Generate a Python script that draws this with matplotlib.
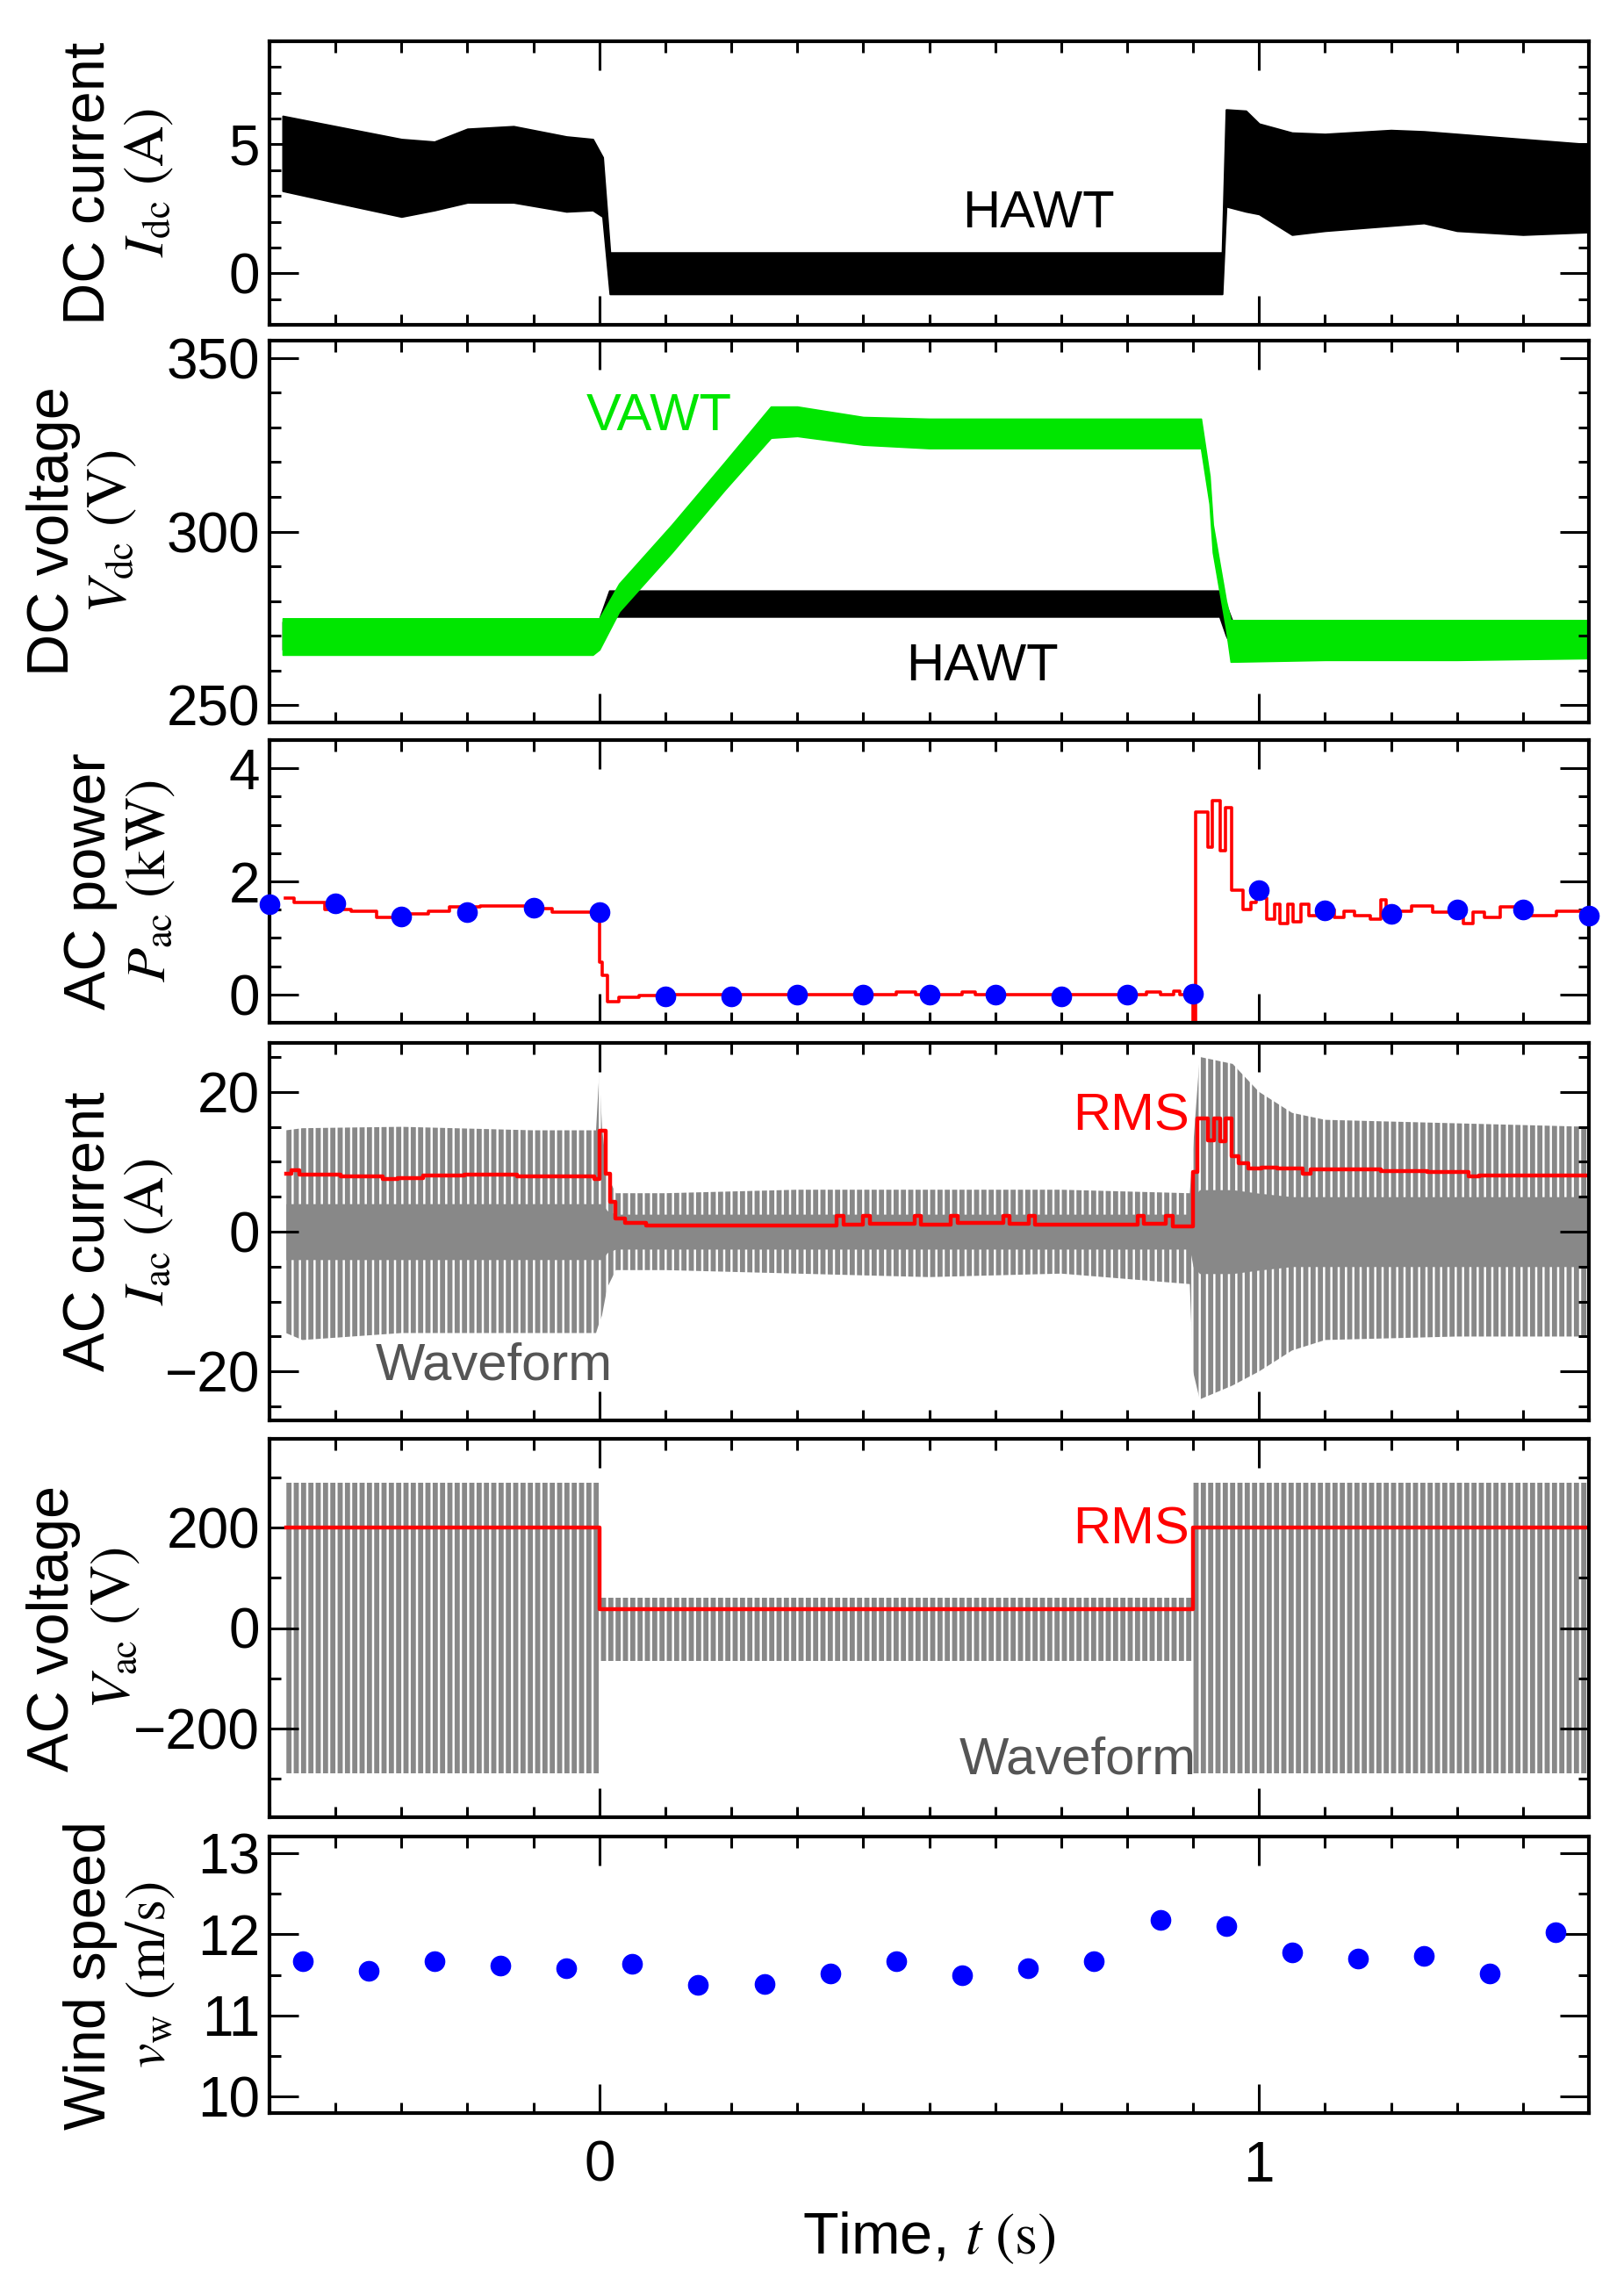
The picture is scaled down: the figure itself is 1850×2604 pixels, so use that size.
import matplotlib
matplotlib.use("Agg")
import matplotlib.pyplot as plt
from matplotlib.ticker import MultipleLocator

plt.rcParams["font.family"] = ["Liberation Sans", "DejaVu Sans"]
plt.rcParams["mathtext.fontset"] = "stix"
plt.rcParams["hatch.linewidth"] = 4.2

GREEN = "#00e600"
RED = "#ff0000"
BLUE = "#0000ff"
WAVE = "#888888"
LABEL_GRAY = "#555555"

# ---- DC current (HAWT), band ----
t_idc = [-0.48, -0.40, -0.30, -0.25, -0.20, -0.13, -0.05, -0.01, 0.005, 0.016,
         0.10, 0.30, 0.50, 0.70, 0.90, 0.944, 0.95, 0.98, 1.00, 1.05, 1.10,
         1.20, 1.25, 1.30, 1.40, 1.50]
idc_hi = [6.1, 5.7, 5.2, 5.1, 5.6, 5.7, 5.3, 5.2, 4.5, 0.8,
          0.8, 0.8, 0.8, 0.8, 0.8, 0.8, 6.35, 6.3, 5.8, 5.45, 5.4,
          5.55, 5.5, 5.4, 5.2, 5.0]
idc_lo = [3.2, 2.75, 2.2, 2.45, 2.75, 2.75, 2.4, 2.45, 2.2, -0.8,
          -0.8, -0.8, -0.8, -0.8, -0.8, -0.8, 2.6, 2.4, 2.3, 1.5, 1.65,
          1.85, 1.95, 1.65, 1.5, 1.6]

# ---- DC voltage ----
t_hawt = [-0.48, -0.01, 0.0, 0.015, 0.5, 0.94, 0.95, 0.96, 1.50]
vdc_hawt_hi = [274, 274, 275, 283, 283, 283, 279, 274, 274]
vdc_hawt_lo = [266, 266, 268, 275.5, 275.5, 275.5, 270, 266, 266]
t_vawt = [-0.48, -0.20, -0.01, 0.0, 0.03, 0.11, 0.19, 0.26, 0.30, 0.40,
          0.50, 0.70, 0.912, 0.925, 0.93, 0.95, 0.957, 1.10, 1.30, 1.50]
vdc_vawt_hi = [275, 275, 275, 275, 285, 302, 320, 336, 336, 333,
               332.5, 332.5, 332.5, 316, 302, 280, 274.5, 274.5, 274.5, 274.5]
vdc_vawt_lo = [264.5, 264.5, 264.5, 266, 277, 294, 312, 327, 327.5, 325,
               324, 324, 324, 308, 294, 272, 262.5, 263, 263, 263.5]

# ---- AC power, RMS step trace and sampled points ----
t_pac = [-0.476, -0.463, -0.416, -0.376, -0.337, -0.306, -0.259, -0.227, -0.18,
         -0.102, -0.071, 0.0, 0.004, 0.012, 0.03, 0.06, 0.10, 0.45, 0.48, 0.55,
         0.57, 0.83, 0.85, 0.87, 0.88, 0.900, 0.904, 0.922, 0.929, 0.941, 0.949,
         0.958, 0.976, 0.988, 0.996, 1.012, 1.024, 1.031, 1.043, 1.051, 1.063,
         1.075, 1.098, 1.114, 1.129, 1.145, 1.169, 1.184, 1.192, 1.231, 1.263,
         1.31, 1.325, 1.341, 1.365, 1.404, 1.451, 1.50]
pac = [1.70, 1.63, 1.50, 1.47, 1.37, 1.42, 1.47, 1.55, 1.57,
       1.52, 1.45, 0.57, 0.34, -0.13, -0.05, -0.02, 0.0, 0.04, 0.0, 0.05,
       0.0, 0.05, 0.0, 0.06, 0.0, -0.6, 3.23, 2.6, 3.43, 2.55, 3.3,
       1.85, 1.50, 1.63, 1.70, 1.34, 1.60, 1.26, 1.60, 1.29, 1.60,
       1.39, 1.50, 1.37, 1.47, 1.39, 1.34, 1.68, 1.47, 1.57, 1.45,
       1.26, 1.45, 1.37, 1.55, 1.39, 1.47, 1.47]
t_pac_pts = [-0.5, -0.4, -0.3, -0.2, -0.1, 0.0, 0.1, 0.2, 0.3, 0.4, 0.5,
             0.6, 0.7, 0.8, 0.9, 1.0, 1.1, 1.2, 1.3, 1.4, 1.5]
pac_pts = [1.60, 1.61, 1.38, 1.46, 1.54, 1.46, -0.04, -0.03, -0.01, 0.0, 0.0,
           0.0, -0.04, 0.0, 0.01, 1.84, 1.49, 1.42, 1.51, 1.51, 1.39]

# ---- AC current: waveform envelope and RMS step trace ----
t_iac = [-0.475, -0.45, -0.30, -0.10, -0.005, 0.0, 0.004, 0.012, 0.025, 0.10,
         0.30, 0.50, 0.70, 0.895, 0.90, 0.91, 0.96, 1.00, 1.05, 1.10, 1.30, 1.50]
iac_hi = [14.5, 14.8, 15.0, 14.5, 14.5, 23.0, 15.0, 8.0, 5.5, 5.5,
          6.0, 6.0, 6.0, 5.5, 12.0, 25.0, 24.0, 20.0, 17.0, 16.0, 15.5, 15.0]
iac_lo = [-14.5, -15.5, -14.5, -14.5, -14.5, -13.0, -12.0, -8.0, -5.5, -5.5,
          -6.0, -6.5, -6.0, -7.5, -20.0, -24.0, -22.0, -20.0, -17.0, -15.5, -15.0, -15.0]
iac_core = [4.0, 4.0, 4.0, 4.0, 4.0, 4.0, 4.0, 3.0, 2.5, 2.5,
            2.5, 2.5, 2.5, 2.5, 5.0, 6.0, 6.0, 5.5, 5.0, 5.0, 5.0, 5.0]
t_irms = [-0.475, -0.467, -0.455, -0.392, -0.329, -0.306, -0.267, -0.204, -0.125,
          -0.008, 0.0, 0.009, 0.016, 0.024, 0.039, 0.071, 0.36, 0.37, 0.40, 0.41,
          0.478, 0.488, 0.533, 0.543, 0.612, 0.622, 0.651, 0.661, 0.816, 0.826,
          0.859, 0.869, 0.900, 0.906, 0.922, 0.932, 0.941, 0.949, 0.958, 0.969,
          0.984, 1.004, 1.027, 1.066, 1.078, 1.184, 1.255, 1.318, 1.334, 1.50]
irms = [8.3, 8.75, 8.1, 7.9, 7.5, 7.7, 8.0, 8.1, 7.9,
        7.5, 14.4, 8.3, 4.3, 1.9, 1.3, 0.9, 2.2, 1.0, 2.2, 1.1,
        2.2, 1.0, 2.2, 1.2, 2.2, 1.1, 2.2, 1.0, 2.2, 1.1,
        2.2, 0.7, 8.5, 16.2, 13.0, 16.2, 12.9, 16.2, 10.8, 9.8,
        9.0, 9.2, 9.0, 8.3, 8.9, 8.7, 8.5, 7.9, 8.0, 8.0]

# ---- AC voltage: waveform envelope and RMS ----
t_vac = [-0.475, 0.0, 0.0, 0.90, 0.90, 1.50]
vac_hi = [290, 290, 61, 61, 290, 290]
vac_lo = [-290, -290, -65, -65, -290, -290]
t_vrms = [-0.475, 0.0, 0.90, 1.50]
vrms = [200, 38, 200, 200]

# ---- Wind speed ----
t_wind = [-0.45, -0.35, -0.25, -0.15, -0.05, 0.05, 0.15, 0.25, 0.35, 0.45,
          0.55, 0.65, 0.75, 0.85, 0.95, 1.05, 1.15, 1.25, 1.35, 1.45]
wind = [11.67, 11.55, 11.67, 11.61, 11.58, 11.64, 11.38, 11.39, 11.52, 11.67,
        11.49, 11.58, 11.67, 12.17, 12.10, 11.77, 11.70, 11.73, 11.52, 12.02]

W, H = 1850, 2604
fig = plt.figure(figsize=(W / 100, H / 100), dpi=100)
fig.patch.set_facecolor("white")

LEFT, RIGHT = 307, 1810
# (top, bottom) pixel edges of each panel
PANELS = [(47, 370), (388, 823), (843, 1165), (1188, 1618), (1639, 2070), (2092, 2407)]

axes = []
for top, bottom in PANELS:
    ax = fig.add_axes([LEFT / W, 1 - bottom / H, (RIGHT - LEFT) / W, (bottom - top) / H])
    ax.set_xlim(-0.5, 1.5)
    ax.xaxis.set_major_locator(MultipleLocator(1))
    ax.xaxis.set_minor_locator(MultipleLocator(0.1))
    ax.tick_params(which="both", direction="in", top=True, right=True,
                   labelsize=46, pad=8, width=2.2)
    ax.tick_params(which="major", length=24)
    ax.tick_params(which="minor", length=9)
    for sp in ax.spines.values():
        sp.set_linewidth(3)
    axes.append(ax)

for ax in axes[:-1]:
    ax.tick_params(labelbottom=False)

ax1, ax2, ax3, ax4, ax5, ax6 = axes

# Panel 1: DC current
ax1.fill_between(t_idc, idc_lo, idc_hi, color="black", lw=1.5)
ax1.set_ylim(-2, 9)
ax1.yaxis.set_major_locator(MultipleLocator(5))
ax1.yaxis.set_minor_locator(MultipleLocator(1))
ax1.text(0.665, 2.3, "HAWT", fontsize=43, ha="center", va="center")

# Panel 2: DC voltage
ax2.fill_between(t_hawt, vdc_hawt_lo, vdc_hawt_hi, color="black", lw=1.2)
ax2.fill_between(t_vawt, vdc_vawt_lo, vdc_vawt_hi, color=GREEN, lw=1.2)
ax2.set_ylim(245, 355)
ax2.yaxis.set_major_locator(MultipleLocator(50))
ax2.yaxis.set_minor_locator(MultipleLocator(10))
ax2.text(0.09, 333, "VAWT", fontsize=43, color=GREEN, ha="center", va="center")
ax2.text(0.58, 261, "HAWT", fontsize=43, ha="center", va="center")

# Panel 3: AC power
ax3.step(t_pac, pac, where="post", color=RED, lw=2.6, zorder=2)
ax3.plot(t_pac_pts, pac_pts, "o", color=BLUE, ms=16, clip_on=False, zorder=3)
ax3.set_ylim(-0.5, 4.5)
ax3.yaxis.set_major_locator(MultipleLocator(2))
ax3.yaxis.set_minor_locator(MultipleLocator(0.5))

# Panel 4: AC current
ax4.fill_between(t_iac, iac_lo, iac_hi, facecolor="none", edgecolor=WAVE,
                 hatch="||", lw=0)
ax4.fill_between(t_iac, [-c for c in iac_core], iac_core, color=WAVE, lw=0)
ax4.step(t_irms, irms, where="post", color=RED, lw=3.2)
ax4.set_ylim(-27, 27)
ax4.yaxis.set_major_locator(MultipleLocator(20))
ax4.yaxis.set_minor_locator(MultipleLocator(5))
ax4.text(0.895, 16.4, "RMS", fontsize=43, color=RED, ha="right", va="center")
ax4.text(-0.16, -19.2, "Waveform", fontsize=43, color=LABEL_GRAY, ha="center", va="center")

# Panel 5: AC voltage
ax5.fill_between(t_vac, vac_lo, vac_hi, facecolor="none", edgecolor=WAVE,
                 hatch="||", lw=0)
ax5.step(t_vrms, vrms, where="post", color=RED, lw=3.2)
ax5.set_ylim(-378, 378)
ax5.yaxis.set_major_locator(MultipleLocator(200))
ax5.yaxis.set_minor_locator(MultipleLocator(100))
ax5.text(0.895, 195, "RMS", fontsize=43, color=RED, ha="right", va="center")
ax5.text(0.905, -264, "Waveform", fontsize=43, color=LABEL_GRAY, ha="right", va="center")

# Panel 6: wind speed
ax6.plot(t_wind, wind, "o", color=BLUE, ms=16)
ax6.set_ylim(9.8, 13.2)
ax6.yaxis.set_major_locator(MultipleLocator(1))
ax6.yaxis.set_minor_locator(MultipleLocator(0.5))
ax6.tick_params(axis="x", which="major", pad=22)
ax6.set_xlabel(r"Time, $t\ ({\rm s})$", fontsize=48, labelpad=14)

# Two-line y labels placed in figure pixels
YLABELS = [
    ("DC current", r"$I_{\rm dc}\ ({\rm A})$", 103, 170),
    ("DC voltage", r"$V_{\rm dc}\ ({\rm V})$", 61, 128),
    ("AC power", r"$P_{\rm ac}\ ({\rm kW})$", 103, 172),
    ("AC current", r"$I_{\rm ac}\ ({\rm A})$", 103, 170),
    ("AC voltage", r"$V_{\rm ac}\ ({\rm V})$", 61, 132),
    ("Wind speed", r"$v_{\rm w}\ ({\rm m/s})$", 103, 172),
]
for (top, bottom), (name, sym, x1, x2) in zip(PANELS, YLABELS):
    yc = 1 - (top + bottom) / 2 / H
    fig.text(x1 / W, yc, name, rotation=90, fontsize=48, ha="center", va="center")
    fig.text(x2 / W, yc, sym, rotation=90, fontsize=46, ha="center", va="center")

fig.savefig("out.png", dpi=100, facecolor="white")
